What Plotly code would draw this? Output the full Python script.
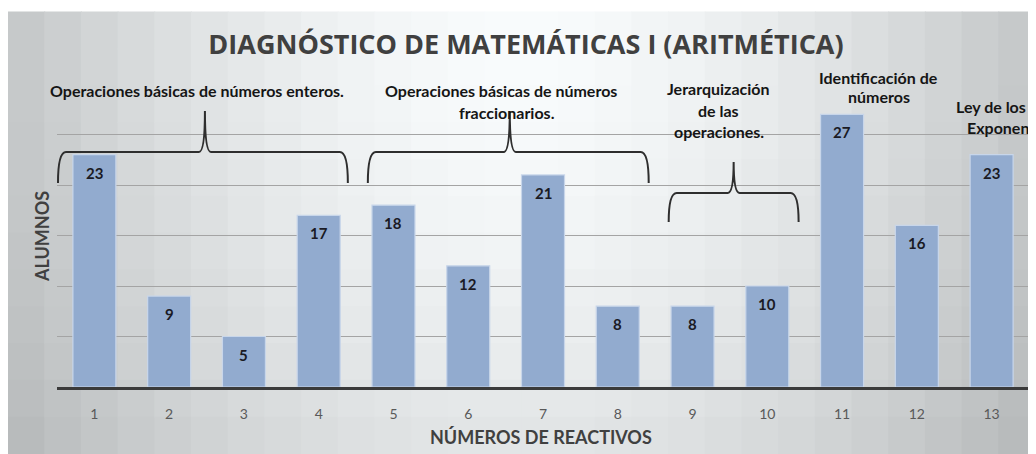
import plotly.graph_objects as go

# ---- data ----
reactivos = [1, 2, 3, 4, 5, 6, 7, 8, 9, 10, 11, 12, 13]
alumnos = [23, 9, 5, 17, 18, 12, 21, 8, 8, 10, 27, 16, 23]
tick_labels = [str(r) for r in reactivos]
title_text = "DIAGNÓSTICO DE MATEMÁTICAS I (ARITMÉTICA)"
x_title = "NÚMEROS DE REACTIVOS"
y_title = "ALUMNOS"

# page has an 8px body margin: work in reference pixels and offset
OFF = 8
W, H = 1036 - OFF, 454 - OFF
L, R, T, B = 57 - OFF, 1029.5 - OFF, 84 - OFF, 387 - OFF


def px(x):
    return (x - OFF - L) / (R - L)


def py(y):
    return (B - (y - OFF)) / (B - T)


fig = go.Figure()
fig.add_trace(go.Bar(
    x=reactivos, y=alumnos,
    marker=dict(color="#92ABCF", line=dict(color="#C8D6EA", width=1.2)),
    hoverinfo="skip",
))

shapes = []
# background gradient (decorative), reference pixel coords
NX, NY = 28, 12
x0, y0 = 8, 12
cw = (1036 - x0) / NX
ch = (454 - y0) / NY
for i in range(NX):
    for j in range(NY):
        cx = x0 + (i + 0.5) * cw
        cy = y0 + (j + 0.5) * ch
        d = (((cx - 520) / 540) ** 2 + ((cy - 50) / 700) ** 2) ** 0.5
        lv = 252 - 58 * d ** 1.6
        r_ = int(max(0, min(255, lv - 3)))
        g_ = int(max(0, min(255, lv)))
        b_ = int(max(0, min(255, lv + 1)))
        shapes.append(dict(
            type="rect", xref="paper", yref="paper", layer="below",
            x0=px(x0 + i * cw - 0.5), x1=px(x0 + (i + 1) * cw + 0.5),
            y0=py(y0 + j * ch - 0.5), y1=py(y0 + (j + 1) * ch + 0.5),
            fillcolor=f"rgb({r_},{g_},{b_})", line=dict(width=0),
        ))


def brace(xa, xb, xm, yl, ye, yt):
    pts = (
        f"M {px(xa)},{py(ye)} Q {px(xa)},{py(yl)} {px(xa + 8)},{py(yl)} "
        f"L {px(xm - 6)},{py(yl)} Q {px(xm)},{py(yl)} {px(xm)},{py(yt)} "
        f"Q {px(xm)},{py(yl)} {px(xm + 6)},{py(yl)} "
        f"L {px(xb - 8)},{py(yl)} Q {px(xb)},{py(yl)} {px(xb)},{py(ye)}"
    )
    return dict(type="path", xref="paper", yref="paper", path=pts,
                line=dict(color="#2e2e2e", width=2), layer="above")


shapes.append(brace(58, 348, 205, 152, 183, 111))
shapes.append(brace(368, 649, 510, 152, 183, 111))
shapes.append(brace(669, 799, 734, 193, 222, 162))

annotations = []
lab_font = dict(family="Lato", size=16, color="#151515", weight="bold")
group_lines = [
    ("Operaciones básicas de números enteros.", 197, 90, "center"),
    ("Operaciones básicas de números", 501, 90, "center"),
    ("fraccionarios.", 507, 112, "center"),
    ("Jerarquización", 719, 88, "center"),
    ("de las", 719, 110, "center"),
    ("operaciones.", 719, 131, "center"),
    ("Identificación de", 879, 77, "center"),
    ("números", 879, 96, "center"),
    ("Ley de los", 991, 106, "center"),
    ("Exponentes", 965, 127, "left"),
]
for txt, gx, gy, anc in group_lines:
    annotations.append(dict(
        text=txt, xref="paper", yref="paper", x=px(gx), y=py(gy),
        xanchor=anc, yanchor="middle", showarrow=False, font=lab_font,
    ))

for xv, yv in zip(reactivos, alumnos):
    annotations.append(dict(
        text=str(yv), x=xv, y=yv, xref="x", yref="y", yshift=-18,
        yanchor="middle", showarrow=False,
        font=dict(family="Lato", size=15, color="#1a1a24", weight="bold"),
    ))

annotations.append(dict(
    text=y_title, xref="paper", yref="paper", x=px(42), y=py(237),
    textangle=-90, showarrow=False, xanchor="center", yanchor="middle",
    font=dict(family="Lato", size=18, color="#404040", weight="bold"),
))
annotations.append(dict(
    text=x_title, xref="paper", yref="paper", x=px(541), y=py(437),
    showarrow=False, xanchor="center", yanchor="middle",
    font=dict(family="Lato", size=18, color="#404040", weight="bold"),
))

fig.update_layout(
    width=W, height=H,
    margin=dict(l=L, r=W - R, t=T, b=H - B, autoexpand=False),
    paper_bgcolor="white", plot_bgcolor="rgba(0,0,0,0)",
    showlegend=False, bargap=0.425,
    title=dict(text=title_text, x=(526 - OFF) / W, y=1 - (45 - OFF) / H,
               xref="container", yref="container", xanchor="center",
               yanchor="middle",
               font=dict(family="Open Sans", size=27, color="#404040", weight="bold")),
    shapes=shapes, annotations=annotations,
    xaxis=dict(range=[0.5, 13.5], tickvals=reactivos, ticktext=tick_labels,
               showgrid=False, zeroline=False, showline=True, linewidth=3,
               linecolor="#3a3a3a", ticks="", ticklabelstandoff=12,
               tickfont=dict(family="Lato", size=14, color="#595959")),
    yaxis=dict(range=[0, 30], dtick=5, showticklabels=False, showgrid=True,
               gridcolor="#a4a4a4", gridwidth=1, zeroline=False, showline=False,
               ticks=""),
)

fig.write_html("out.html")
